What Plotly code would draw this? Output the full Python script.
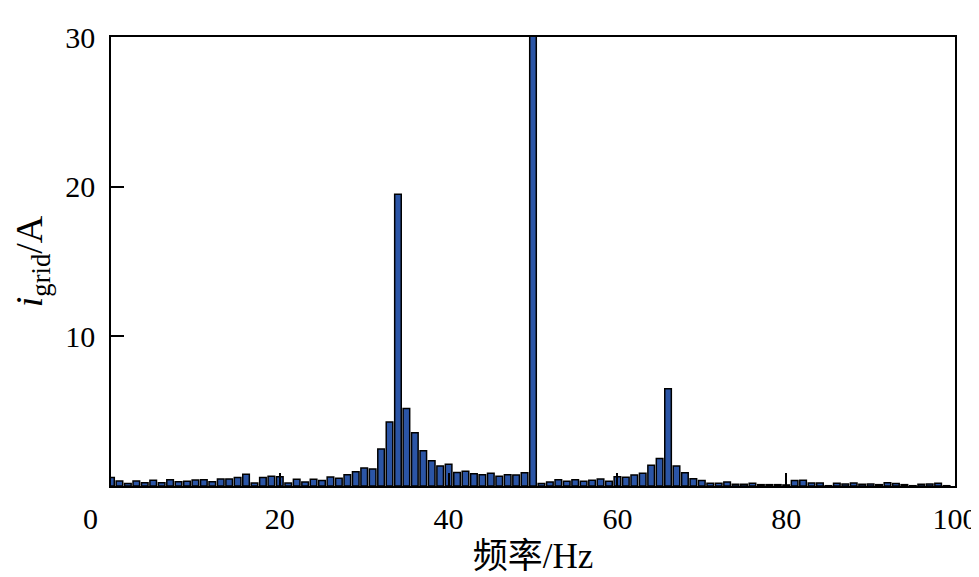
import plotly.graph_objects as go

freq_hz = list(range(0, 100))
current_a = [
    0.56, 0.33, 0.16, 0.33, 0.22, 0.38, 0.22, 0.42, 0.29, 0.31,
    0.40, 0.42, 0.29, 0.47, 0.47, 0.56, 0.78, 0.20, 0.56, 0.65,
    0.62, 0.20, 0.45, 0.27, 0.45, 0.36, 0.60, 0.51, 0.76, 0.96,
    1.20, 1.14, 2.47, 4.28, 19.5, 5.17, 3.55, 2.36, 1.69, 1.34,
    1.45, 0.91, 0.98, 0.82, 0.76, 0.85, 0.65, 0.76, 0.74, 0.89,
    35.0, 0.16, 0.27, 0.42, 0.31, 0.42, 0.31, 0.38, 0.47, 0.31,
    0.62, 0.58, 0.74, 0.85, 1.38, 1.83, 6.49, 1.34, 0.89, 0.49,
    0.36, 0.18, 0.18, 0.27, 0.11, 0.11, 0.18, 0.09, 0.09, 0.09,
    0.07, 0.36, 0.38, 0.20, 0.20, 0.02, 0.18, 0.13, 0.20, 0.11,
    0.13, 0.09, 0.22, 0.16, 0.09, 0.02, 0.11, 0.13, 0.18, 0.02,
]
x_ticks = [20, 40, 60, 80, 100]
y_ticks = [10, 20, 30]

FONT = "Liberation Serif, Times New Roman, Noto Sans CJK SC, serif"

fig = go.Figure(
    go.Bar(
        x=freq_hz,
        y=current_a,
        width=0.78,
        marker=dict(color="#2B55A6", line=dict(color="black", width=1.5)),
    )
)

fig.update_layout(
    width=979,
    height=577,
    margin=dict(l=103, r=32, t=29, b=99, autoexpand=False),
    paper_bgcolor="white",
    plot_bgcolor="white",
    showlegend=False,
    font=dict(family=FONT, size=30, color="black"),
    xaxis=dict(
        range=[0, 100],
        tickvals=x_ticks,
        ticks="inside",
        ticklen=13,
        tickwidth=1.5,
        tickcolor="black",
        showgrid=False,
        zeroline=False,
        showline=True,
        linecolor="black",
        linewidth=1.5,
        mirror=True,
        ticklabelstandoff=5,
        tickfont=dict(family=FONT, size=30),
        title=dict(text="频率/Hz", font=dict(family=FONT, size=35), standoff=10),
    ),
    yaxis=dict(
        range=[0, 30],
        tickvals=y_ticks,
        ticks="inside",
        ticklen=13,
        tickwidth=1.5,
        tickcolor="black",
        showgrid=False,
        zeroline=False,
        showline=True,
        linecolor="black",
        linewidth=1.5,
        mirror=True,
        ticklabelstandoff=8,
        tickfont=dict(family=FONT, size=30),
        title=dict(text="<i>i</i><sub>grid</sub>/A", font=dict(family=FONT, size=38), standoff=19),
    ),
    annotations=[
        dict(
            x=0, y=0, xref="x", yref="y",
            text="0", showarrow=False,
            xshift=-21, yshift=-32,
            font=dict(family=FONT, size=30, color="black"),
        )
    ],
)

fig.write_html("out.html")
